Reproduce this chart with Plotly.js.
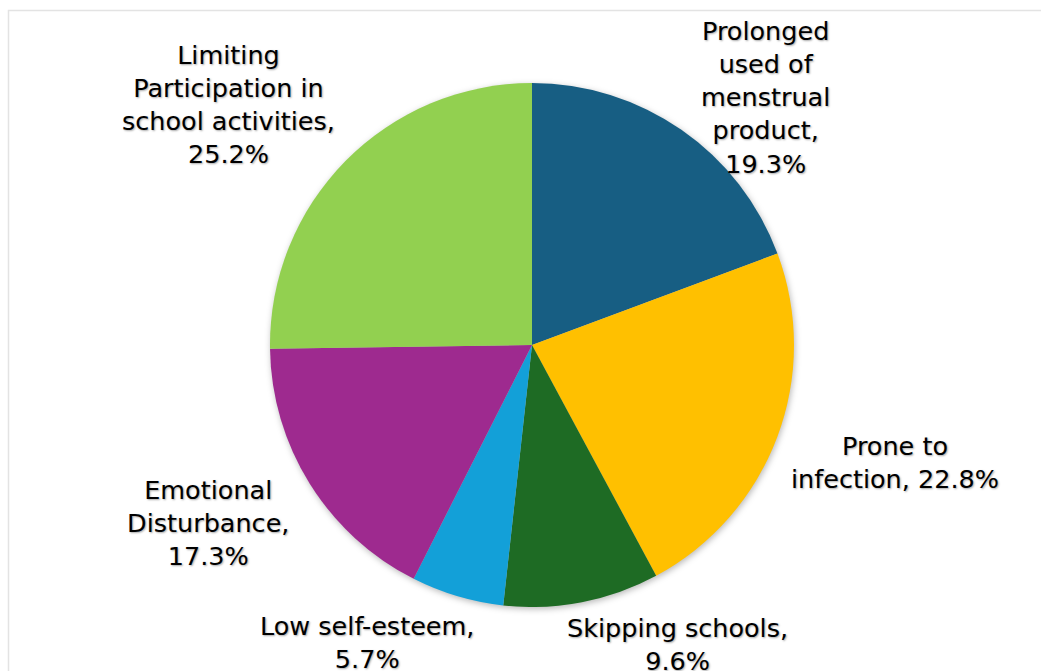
<!DOCTYPE html>
<html>
<head>
<meta charset="utf-8">
<script src="https://cdn.plot.ly/plotly-3.0.1.min.js"></script>
<style>
html,body{margin:0;padding:0;background:#fff;}
#chart{width:1041px;height:671px;}
.pielayer .trace{filter:drop-shadow(1px 2px 3px rgba(0,0,0,0.28));}
</style>
</head>
<body>
<div id="chart"></div>
<script>
// Data
const categories = ["Prolonged used of menstrual product", "Prone to infection", "Skipping schools", "Low self-esteem", "Emotional Disturbance", "Limiting Participation in school activities"];
const labelLines = [
  ["Prolonged", "used of", "menstrual", "product,"],
  ["Prone to", "infection,"],
  ["Skipping schools,"],
  ["Low self-esteem,"],
  ["Emotional", "Disturbance,"],
  ["Limiting", "Participation in", "school activities,"]
];
const values = [19.3, 22.8, 9.6, 5.7, 17.3, 25.2];
const colors = ["#175E83", "#FFC000", "#1E6B24", "#13A0D8", "#9E2A8F", "#92D050"];

// Label placement (pixels in the 1041x671 frame) - layout only
const labelPos = [[765, 97], [895, 462], [677, 644], [367, 642], [208, 523], [228, 104]];
const labelJoin = [false, true, false, false, false, false]; // percent on same line as last word

const W = 1041, H = 671;
const cx = 532, cy = 345, r = 262;

const annotations = categories.map((c, i) => {
  const lines = labelLines[i].slice();
  const pct = values[i].toFixed(1) + "%";
  if (labelJoin[i]) lines[lines.length - 1] += " " + pct; else lines.push(pct);
  return {
    text: lines.join("<br>"),
    xref: "paper", yref: "paper",
    x: labelPos[i][0] / W, y: 1 - labelPos[i][1] / H,
    xanchor: "center", yanchor: "middle", align: "center",
    showarrow: false,
    font: {family: "DejaVu Sans, Arial, sans-serif", size: 25.5, color: "#000", shadow: "1px 1px 2px rgba(0,0,0,0.35)"}
  };
});

const trace = {
  type: "pie",
  labels: categories,
  values: values,
  sort: false,
  direction: "clockwise",
  rotation: 0,
  marker: {colors: colors, line: {width: 0}},
  textinfo: "none",
  hoverinfo: "label+percent",
  showlegend: false,
  domain: {x: [(cx - r) / W, (cx + r) / W], y: [1 - (cy + r) / H, 1 - (cy - r) / H]}
};

const layout = {
  width: W, height: H,
  margin: {l: 0, r: 0, t: 0, b: 0},
  paper_bgcolor: "#ffffff",
  showlegend: false,
  annotations: annotations,
  shapes: [{
    type: "rect", xref: "paper", yref: "paper",
    x0: 8.5 / W, x1: 1.02, y0: -0.02, y1: 1 - 10.5 / H,
    line: {color: "#E3E3E3", width: 1.5}, fillcolor: "rgba(0,0,0,0)", layer: "below"
  }]
};

Plotly.newPlot("chart", [trace], layout, {displayModeBar: false, staticPlot: true});
</script>
</body>
</html>
